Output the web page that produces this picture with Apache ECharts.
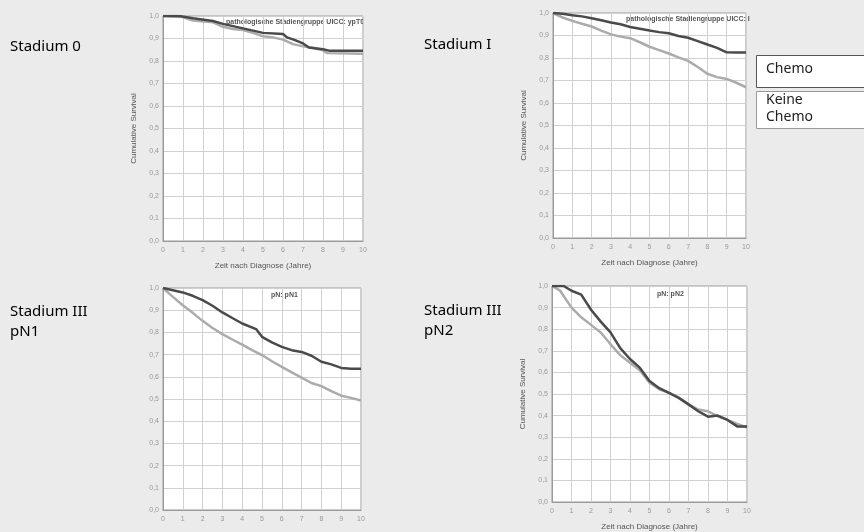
<!DOCTYPE html>
<html>
<head>
<meta charset="utf-8">
<script src="https://cdn.jsdelivr.net/npm/echarts@6/dist/echarts.min.js"></script>
<style>
  html, body { margin: 0; padding: 0; background: #ebebeb; }
  #chart { width: 864px; height: 532px; }
</style>
</head>
<body>
<div id="chart"></div>
<script>
// years, survival pairs for each panel (dark = Chemo, light = Keine Chemo)
const st0Chemo = [[0,1],[0.8,1],[1.5,0.99],[2.5,0.978],[3,0.965],[3.5,0.955],[4,0.945],[4.5,0.935],[5,0.925],[6,0.92],[6.2,0.905],[6.6,0.893],[7,0.878],[7.3,0.86],[8,0.852],[8.3,0.846],[10,0.846]];
const st0Keine = [[0,1],[1,0.995],[1.5,0.98],[2.5,0.972],[3,0.952],[3.5,0.942],[4,0.938],[4.5,0.925],[5,0.91],[5.5,0.905],[6,0.895],[6.5,0.875],[7,0.865],[7.5,0.858],[8,0.848],[8.2,0.835],[10,0.832]];

const st1Chemo = [[0,1],[0.5,0.997],[1,0.99],[1.5,0.985],[2,0.977],[2.5,0.968],[3,0.958],[3.5,0.95],[4,0.938],[4.5,0.93],[5,0.922],[5.5,0.915],[6,0.91],[6.5,0.898],[7,0.89],[7.5,0.875],[8,0.86],[8.5,0.845],[9,0.825],[9.5,0.824],[10,0.824]];
const st1Keine = [[0,1],[0.5,0.98],[1,0.965],[1.5,0.952],[2,0.94],[2.5,0.922],[3,0.905],[3.5,0.895],[4,0.888],[4.5,0.87],[5,0.85],[5.5,0.835],[6,0.82],[6.5,0.803],[7,0.787],[7.5,0.76],[8,0.73],[8.5,0.715],[9,0.707],[9.5,0.69],[10,0.67]];

const pn1Chemo = [[0,1],[0.5,0.99],[1,0.98],[1.5,0.965],[2,0.945],[2.5,0.92],[3,0.89],[3.5,0.865],[4,0.84],[4.7,0.815],[5,0.78],[5.5,0.755],[6,0.735],[6.5,0.72],[7,0.712],[7.5,0.695],[8,0.668],[8.5,0.656],[9,0.64],[9.5,0.636],[10,0.636]];
const pn1Keine = [[0,1],[0.5,0.96],[1,0.922],[1.5,0.888],[2,0.852],[2.5,0.82],[3,0.792],[3.5,0.768],[4,0.745],[4.5,0.72],[5,0.698],[5.5,0.67],[6,0.645],[6.5,0.62],[7,0.596],[7.5,0.572],[8,0.558],[8.5,0.535],[9,0.515],[9.5,0.505],[10,0.493]];

const pn2Chemo = [[0,1],[0.6,1],[1,0.978],[1.5,0.96],[2,0.89],[2.5,0.835],[3,0.785],[3.5,0.712],[4,0.662],[4.5,0.622],[5,0.56],[5.5,0.527],[6,0.505],[6.5,0.482],[7,0.452],[7.5,0.42],[8,0.395],[8.5,0.4],[9,0.38],[9.5,0.35],[10,0.35]];
const pn2Keine = [[0,1],[0.4,0.98],[1,0.9],[1.5,0.855],[2,0.82],[2.5,0.785],[3,0.73],[3.5,0.68],[4,0.645],[4.5,0.61],[5,0.552],[5.5,0.522],[6,0.505],[6.5,0.483],[7,0.452],[7.5,0.428],[8,0.42],[8.5,0.397],[9,0.38],[9.5,0.362],[10,0.345]];

const xTicks = [0,1,2,3,4,5,6,7,8,9,10];
const yTicks = [0,0.1,0.2,0.3,0.4,0.5,0.6,0.7,0.8,0.9,1.0];

const panelLabels = ['Stadium 0', 'Stadium I', 'Stadium III\npN1', 'Stadium III\npN2'];
const panelTitles = ['pathologische Stadiengruppe UICC: ypT0', 'pathologische Stadiengruppe UICC: I', 'pN: pN1', 'pN: pN2'];
const legendNames = ['Chemo', 'Keine\nChemo'];

const grids = [
  {left: 163, top: 16, width: 200, height: 225},
  {left: 553, top: 13, width: 193, height: 225},
  {left: 163, top: 288, width: 198, height: 222},
  {left: 552, top: 286, width: 195, height: 221}
];
const showYName = [true, true, false, true];
const showXName = [true, true, false, true];
const seriesData = [[st0Chemo, st0Keine], [st1Chemo, st1Keine], [pn1Chemo, pn1Keine], [pn2Chemo, pn2Keine]];

let chart = echarts.init(document.getElementById('chart'));
let xAxes = [], yAxes = [], series = [];
grids.forEach(function(g, i){
  g.show = true;
  g.backgroundColor = '#ffffff';
  g.borderColor = '#9a9a9a';
  g.borderWidth = 1;
  xAxes.push({
    gridIndex: i, type: 'value', min: 0, max: 10, interval: 1,
    name: showXName[i] ? 'Zeit nach Diagnose (Jahre)' : '',
    nameLocation: 'middle', nameGap: 21,
    nameTextStyle: {fontSize: 8, color: '#555', fontFamily: 'Liberation Sans'},
    axisLine: {show: true, lineStyle: {color: '#9a9a9a'}},
    axisTick: {show: false},
    axisLabel: {fontSize: 7, color: '#999', margin: 6, fontFamily: 'Liberation Sans'},
    splitLine: {show: true, lineStyle: {color: '#d0d0d0', width: 1}}
  });
  yAxes.push({
    gridIndex: i, type: 'value', min: 0, max: 1, interval: 0.1,
    name: showYName[i] ? 'Cumulative Survival' : '',
    nameLocation: 'middle', nameGap: 25, nameRotate: 90,
    nameTextStyle: {fontSize: 8, color: '#555', fontFamily: 'Liberation Sans'},
    axisLine: {show: true, lineStyle: {color: '#9a9a9a'}},
    axisTick: {show: false},
    axisLabel: {fontSize: 7, color: '#999', margin: 4, fontFamily: 'Liberation Sans',
      formatter: function(v){ return v.toFixed(1).replace('.', ','); }},
    splitLine: {show: true, lineStyle: {color: '#d0d0d0', width: 1}}
  });
  series.push({
    name: 'Keine Chemo', type: 'line', xAxisIndex: i, yAxisIndex: i,
    data: seriesData[i][1], showSymbol: false,
    lineStyle: {color: '#ababab', width: 2.5}, z: 3
  });
  series.push({
    name: 'Chemo', type: 'line', xAxisIndex: i, yAxisIndex: i,
    data: seriesData[i][0], showSymbol: false,
    lineStyle: {color: '#4a4a4a', width: 2.5}, z: 4
  });
});

const labelStyle = {fontSize: 15, color: '#222', fontFamily: 'Noto Sans', lineHeight: 20};
let option = {
  backgroundColor: '#ebebeb',
  animation: false,
  grid: grids,
  xAxis: xAxes,
  yAxis: yAxes,
  series: series,
  graphic: [
    {type: 'text', left: 10, top: 37, style: Object.assign({text: panelLabels[0]}, labelStyle)},
    {type: 'text', left: 424, top: 35, style: Object.assign({text: panelLabels[1]}, labelStyle)},
    {type: 'text', left: 10, top: 302, style: Object.assign({text: panelLabels[2]}, labelStyle)},
    {type: 'text', left: 424, top: 301, style: Object.assign({text: panelLabels[3]}, labelStyle)},
    {type: 'text', left: 226, top: 19, style: {text: panelTitles[0], fontSize: 7, fontWeight: 'bold', fill: '#555', fontFamily: 'Liberation Sans'}},
    {type: 'text', left: 626, top: 16, style: {text: panelTitles[1], fontSize: 7, fontWeight: 'bold', fill: '#555', fontFamily: 'Liberation Sans'}},
    {type: 'text', left: 271, top: 292, style: {text: panelTitles[2], fontSize: 7, fontWeight: 'bold', fill: '#555', fontFamily: 'Liberation Sans'}},
    {type: 'text', left: 657, top: 291, style: {text: panelTitles[3], fontSize: 7, fontWeight: 'bold', fill: '#555', fontFamily: 'Liberation Sans'}},
    {type: 'rect', shape: {x: 756.5, y: 55.5, width: 120, height: 32}, style: {fill: '#ffffff', stroke: '#555', lineWidth: 1}},
    {type: 'rect', shape: {x: 756.5, y: 91.5, width: 120, height: 37}, style: {fill: '#ffffff', stroke: '#999', lineWidth: 1}},
    {type: 'text', left: 766, top: 62, style: {text: legendNames[0], fontSize: 14, fill: '#222', fontFamily: 'Noto Sans'}},
    {type: 'text', left: 766, top: 92, style: {text: legendNames[1], fontSize: 14, fill: '#222', fontFamily: 'Noto Sans', lineHeight: 17}}
  ]
};
chart.setOption(option);
</script>
</body>
</html>
